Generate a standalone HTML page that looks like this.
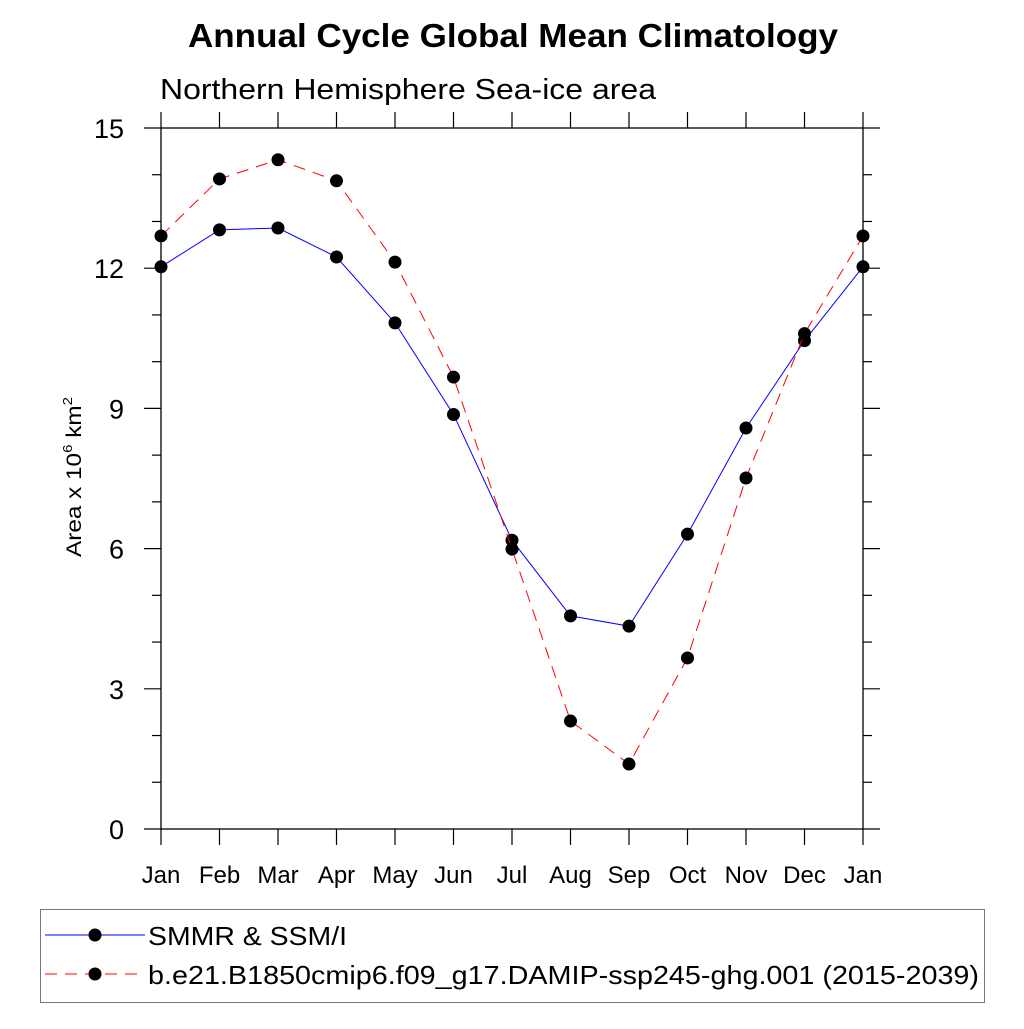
<!DOCTYPE html>
<html><head><meta charset="utf-8"><style>
body{margin:0;background:#fff;width:1024px;height:1024px;overflow:hidden}
svg text{font-family:"Liberation Sans",sans-serif}
</style></head><body>
<svg id="chart" width="1024" height="1024" viewBox="0 0 1024 1024">
<text x="188" y="47" textLength="650" lengthAdjust="spacingAndGlyphs" font-size="33" font-weight="bold">Annual Cycle Global Mean Climatology</text>
<text x="160" y="99" textLength="496" lengthAdjust="spacingAndGlyphs" font-size="29">Northern Hemisphere Sea-ice area</text>
<text transform="translate(81,557) rotate(-90)" font-size="21" textLength="160" lengthAdjust="spacingAndGlyphs">Area x 10<tspan dy="-9" font-size="13">6</tspan><tspan dy="9"> km</tspan><tspan dy="-9" font-size="13">2</tspan></text>
<g id="axes"></g>
<g id="series"></g>
<g>
<rect x="40.5" y="909.5" width="944" height="93" fill="#fff" stroke="#777" stroke-width="1"/>
<line x1="45" y1="935" x2="145" y2="935" stroke="#0000ff" stroke-width="1"/>
<circle cx="95" cy="935" r="6.5" fill="#000"/>
<text x="148" y="945" font-size="26" textLength="199" lengthAdjust="spacingAndGlyphs">SMMR &amp; SSM/I</text>
<line x1="45" y1="974" x2="145" y2="974" stroke="#ff0000" stroke-width="1" stroke-dasharray="12,8"/>
<circle cx="95" cy="974" r="6.5" fill="#000"/>
<text x="148" y="984" font-size="26" textLength="831" lengthAdjust="spacingAndGlyphs">b.e21.B1850cmip6.f09_g17.DAMIP-ssp245-ghg.001 (2015-2039)</text>
</g>
</svg>
<script>
const months = ["Jan","Feb","Mar","Apr","May","Jun","Jul","Aug","Sep","Oct","Nov","Dec","Jan"];
const obsValues = [12.03,12.82,12.86,12.24,10.83,8.87,6.18,4.56,4.34,6.31,8.58,10.45,12.03];
const modelValues = [12.69,13.91,14.32,13.87,12.13,9.67,5.99,2.31,1.39,3.66,7.51,10.6,12.69];
const yTicks = [0,3,6,9,12,15];
const NS="http://www.w3.org/2000/svg";
const L=161,R=863,T=128,B=829;
const xs=i=>L+(R-L)*i/12;
const ys=v=>B-(B-T)*v/15;
function mk(tag,attrs,parent){const e=document.createElementNS(NS,tag);for(const k in attrs)e.setAttribute(k,attrs[k]);parent.appendChild(e);return e;}
const ax=document.getElementById('axes');
const frame=mk('rect',{x:L,y:T,width:R-L,height:B-T,fill:'none',stroke:'#000','stroke-width':1.3},ax);


for(let v=0;v<=15;v++){
  const y=ys(v),len=(v%3===0)?17:9;
  mk('line',{x1:L-len,y1:y,x2:L,y2:y,stroke:'#000','stroke-width':1.2},ax);
  mk('line',{x1:R,y1:y,x2:R+len,y2:y,stroke:'#000','stroke-width':1.2},ax);
}
yTicks.forEach(v=>{
  const t=mk('text',{x:L-37,y:ys(v)+10,'text-anchor':'end','font-size':27},ax);
  t.textContent=v;
  
  
});
months.forEach((m,i)=>{
  const x=xs(i);
  mk('line',{x1:x,y1:B,x2:x,y2:B+16,stroke:'#000','stroke-width':1.2},ax);
  mk('line',{x1:x,y1:T-16,x2:x,y2:T,stroke:'#000','stroke-width':1.2},ax);
  const t=mk('text',{x:x,y:883,'text-anchor':'middle','font-size':24},ax);
  t.textContent=m;
  
  
});
const sg=document.getElementById('series');
function series(vals,color,dash,name){
  const p=mk('polyline',{points:vals.map((v,i)=>xs(i)+','+ys(v)).join(' '),fill:'none',stroke:color,'stroke-width':1,'stroke-dasharray':dash},sg);
  
  
  vals.forEach((v,i)=>{
    const c=mk('circle',{cx:xs(i),cy:ys(v),r:6.5,fill:'#000'},sg);
    
    
  });
}
series(obsValues,'#0000ff','none','obs');
series(modelValues,'#ff0000','12,8','model');
</script>
</body></html>
